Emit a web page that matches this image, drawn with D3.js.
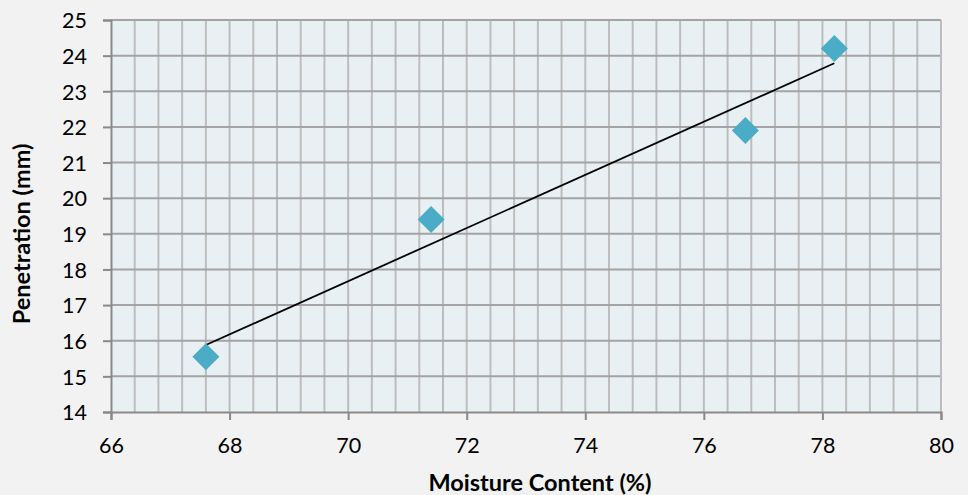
<!DOCTYPE html>
<html>
<head>
<meta charset="utf-8">
<script src="https://cdn.jsdelivr.net/npm/d3@7"></script>
<style>
  html, body { margin: 0; padding: 0; background: #f2f2f2; }
  svg { display: block; }
  text { font-family: Lato, "Open Sans", sans-serif; fill: #000; }
</style>
</head>
<body>
<svg id="chart" width="968" height="495"></svg>
<script>
// Penetration versus moisture content
const moisture = [67.6, 71.4, 76.7, 78.2];
const penetration = [15.55, 19.4, 21.9, 24.2];
const xTicks = [66, 68, 70, 72, 74, 76, 78, 80];
const yTicks = [14, 15, 16, 17, 18, 19, 20, 21, 22, 23, 24, 25];
const xTitle = "Moisture Content (%)";
const yTitle = "Penetration (mm)";

const W = 968, H = 495;
const m = { left: 111, right: 27, top: 20, bottom: 83 };
const tickFont = 21.5, titleFont = 23.5;
const svg = d3.select("#chart");

const x = d3.scaleLinear().domain([66, 80]).range([m.left, W - m.right]);
const y = d3.scaleLinear().domain([14, 25]).range([H - m.bottom, m.top]);

// plot background
svg.append("rect")
  .attr("x", x(66)).attr("y", y(25))
  .attr("width", x(80) - x(66)).attr("height", y(14) - y(25))
  .attr("fill", "#e9f0f3");

// minor vertical gridlines every 0.4
const vGrid = d3.range(1, 35).map(i => 66 + i * 0.4);
svg.append("g").selectAll("line").data(vGrid).join("line")
  .attr("x1", d => x(d)).attr("x2", d => x(d))
  .attr("y1", y(25)).attr("y2", y(14))
  .attr("stroke", "#bdbdbd").attr("stroke-width", 2);

// horizontal gridlines at each unit
svg.append("g").selectAll("line").data(yTicks.filter(v => v > 14)).join("line")
  .attr("x1", x(66)).attr("x2", x(80))
  .attr("y1", d => y(d)).attr("y2", d => y(d))
  .attr("stroke", "#a3a3a3").attr("stroke-width", 2);

// right border
svg.append("line")
  .attr("x1", x(80)).attr("x2", x(80)).attr("y1", y(25)).attr("y2", y(14))
  .attr("stroke", "#bdbdbd").attr("stroke-width", 2);

// axes
const xAxis = svg.append("g")
  .attr("transform", `translate(0,${y(14)})`)
  .call(d3.axisBottom(x).tickValues(xTicks).tickSize(8).tickFormat(d3.format("d")));
const yAxis = svg.append("g")
  .attr("transform", `translate(${x(66)},0)`)
  .call(d3.axisLeft(y).tickValues(yTicks).tickSize(8).tickPadding(16).tickFormat(d3.format("d")));

[xAxis, yAxis].forEach(g => {
  g.select(".domain").attr("stroke", "#898989").attr("stroke-width", 2);
  g.selectAll(".tick line").attr("stroke", "#898989").attr("stroke-width", 2);
  g.selectAll(".tick text")
    .attr("font-size", tickFont)
    .attr("font-family", "Lato, 'Open Sans', sans-serif")
    .attr("fill", "#000");
});
xAxis.selectAll(".tick text").attr("y", 41).attr("dy", 0);
yAxis.selectAll(".tick text").attr("dy", "0.36em");

// linear trendline (least squares fit)
const mx = d3.mean(moisture), my = d3.mean(penetration);
const sxy = d3.sum(moisture, (v, i) => (v - mx) * (penetration[i] - my));
const sxx = d3.sum(moisture, v => (v - mx) * (v - mx));
const slope = sxy / sxx, icpt = my - slope * mx;
const x0 = d3.min(moisture), x1 = d3.max(moisture);
svg.append("line")
  .attr("x1", x(x0)).attr("y1", y(icpt + slope * x0))
  .attr("x2", x(x1)).attr("y2", y(icpt + slope * x1))
  .attr("stroke", "#000").attr("stroke-width", 1.8);

// diamond markers
const pts = moisture.map((v, i) => ({ mx: v, p: penetration[i] }));
svg.append("g").selectAll("path").data(pts).join("path")
  .attr("transform", d => `translate(${x(d.mx)},${y(d.p)})`)
  .attr("d", "M0,-13.5L13.5,0L0,13.5L-13.5,0Z")
  .attr("fill", "#4aacc6");

// axis titles
svg.append("text")
  .attr("x", 540).attr("y", 491)
  .attr("text-anchor", "middle").attr("font-size", titleFont).attr("font-weight", "bold")
  .text(xTitle);
svg.append("text")
  .attr("transform", `translate(30,234) rotate(-90)`)
  .attr("text-anchor", "middle").attr("font-size", titleFont).attr("font-weight", "bold")
  .text(yTitle);
</script>
</body>
</html>
